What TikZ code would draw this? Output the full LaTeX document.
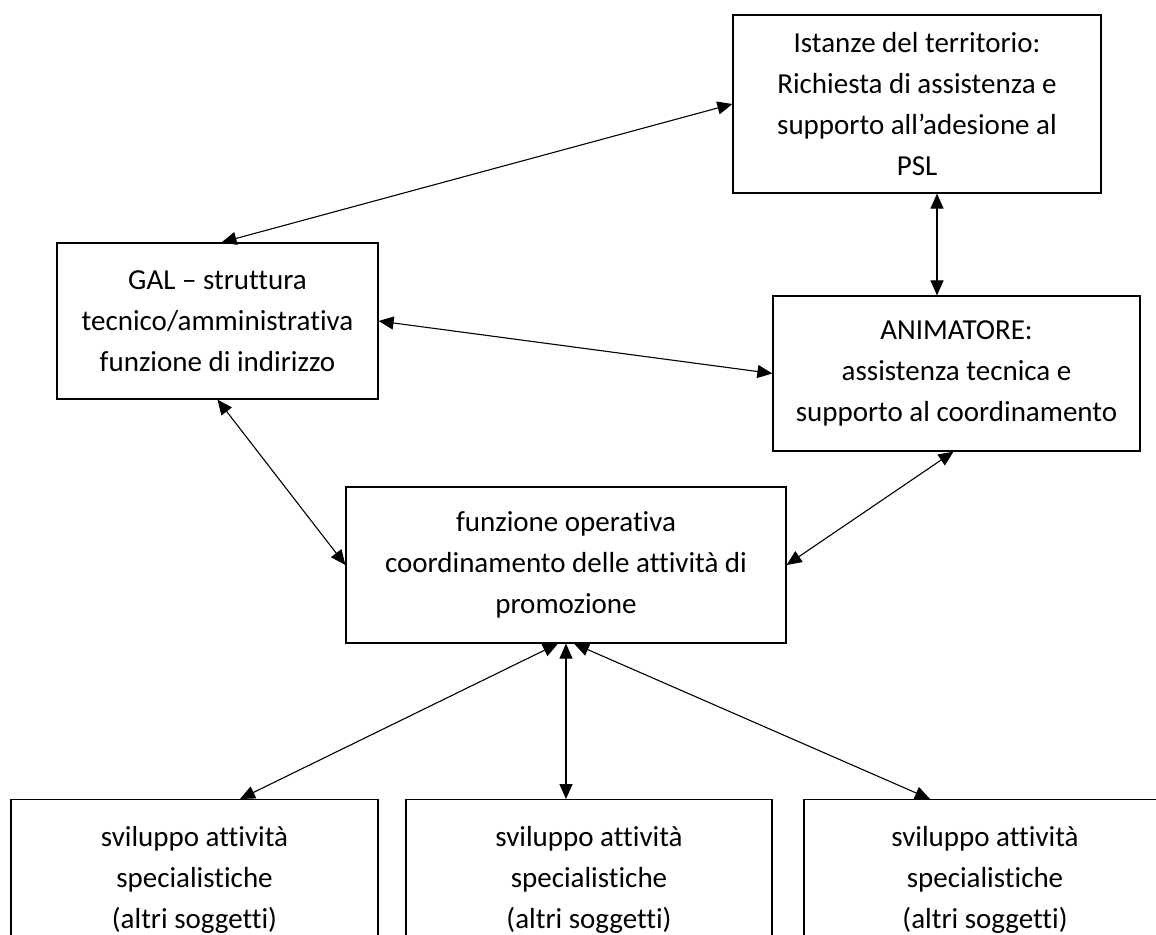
\documentclass[tikz,border=0pt]{standalone}
\usepackage{fontspec}
\setmainfont{Carlito}[Ligatures=NoCommon]
\usetikzlibrary{arrows.meta}

\tikzset{
  box/.style={draw=black, line width=1.2pt, align=center, inner sep=0pt,
    font=\fontsize{29}{41}\selectfont},
  link/.style={{Triangle[length=15pt,width=13pt]}-{Triangle[length=15pt,width=13pt]}, line width=1.1pt}
}

\begin{document}
\begin{tikzpicture}[x=1pt,y=-1pt]
  \useasboundingbox (0,0) rectangle (1156,934);
  \clip (0,0) rectangle (1156,934);
  % boxes
  \node[box, minimum width=368pt, minimum height=178pt] (istanze) at (917,104)
    {Istanze del territorio:\\Richiesta di assistenza e\\supporto all’adesione al\\PSL};
  \node[box, minimum width=321pt, minimum height=156pt] (gal) at (217.5,321)
    {GAL – struttura\\tecnico/amministrativa\\funzione di indirizzo};
  \node[box, minimum width=367pt, minimum height=155pt] (anim) at (956.5,373.5)
    {ANIMATORE:\\assistenza tecnica e\\supporto al coordinamento};
  \node[box, minimum width=440pt, minimum height=156pt] (funz) at (566,565)
    {funzione operativa\\coordinamento delle attività di\\promozione};
  \node[box, anchor=north, minimum width=367pt, minimum height=161pt] (sogg1) at (194.5,799)
    {sviluppo attività\\specialistiche\\(altri soggetti)};
  \node[box, anchor=north, minimum width=366pt, minimum height=161pt] (sogg2) at (589,799)
    {sviluppo attività\\specialistiche\\(altri soggetti)};
  \node[box, anchor=north, minimum width=362pt, minimum height=161pt] (sogg3) at (985,799)
    {sviluppo attività\\specialistiche\\(altri soggetti)};
  % connectors
  \draw[link] (istanze.west) -- ([xshift=4]gal.north);
  \draw[link] ([xshift=20]istanze.south) -- ([xshift=-19.5]anim.north);
  \draw[link] (gal.east) -- (anim.west);
  \draw[link] (gal.south) -- (funz.west);
  \draw[link] ([xshift=-3]anim.south) -- (funz.east);
  \draw[link] ([xshift=-8]funz.south) -- ([xshift=45.5]sogg1.north);
  \draw[link] (funz.south) -- ([xshift=-23]sogg2.north);
  \draw[link] ([xshift=8]funz.south) -- ([xshift=-55]sogg3.north);
\end{tikzpicture}
\end{document}
